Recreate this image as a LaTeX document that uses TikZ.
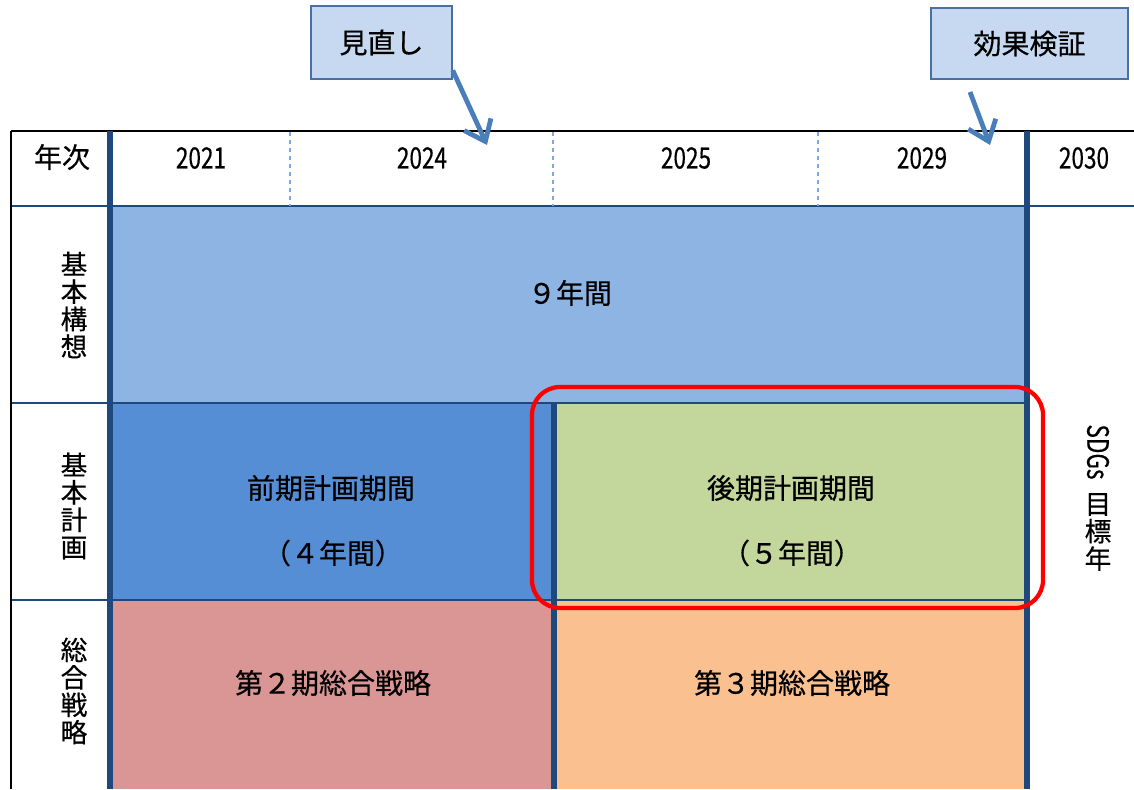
\documentclass[tikz,border=0pt]{standalone}
\usepackage{fontspec}
\newfontfamily\jp[FakeBold=0.5]{Noto Sans CJK JP}
\usetikzlibrary{arrows.meta}
\definecolor{kousou}{HTML}{8EB4E3}
\definecolor{zenki}{HTML}{558ED5}
\definecolor{kouki}{HTML}{C3D69B}
\definecolor{dai2}{HTML}{D99694}
\definecolor{dai3}{HTML}{FAC090}
\definecolor{navy}{HTML}{1F497D}
\definecolor{callfill}{HTML}{C6D9F1}
\definecolor{callline}{HTML}{4A6FA5}
\definecolor{arrcol}{HTML}{4A7EBB}
\definecolor{dashcol}{HTML}{7FA7DB}
\newcommand{\yr}[1]{\scalebox{0.77}[1]{#1}}
\tikzset{
  callout/.style={draw=callline, fill=callfill, line width=1.1pt, inner sep=0pt},
  arr/.style={draw=arrcol, line width=3.6pt, -{Straight Barb[length=14pt,width=22pt]}},
  sep/.style={draw=navy, line width=1pt},
  bigsep/.style={draw=navy, line width=4.5pt},
  hdash/.style={draw=dashcol, line width=1pt, dashed},
  border/.style={draw=black, line width=1.6pt},
  vlabel/.style={align=center, font=\jp\fontsize{20}{20.6}\selectfont, inner sep=0pt},
  txt/.style={font=\jp\fontsize{21}{24}\selectfont, inner sep=0pt},
  yrtxt/.style={font=\jp\fontsize{22}{24}\selectfont, inner sep=0pt},
  redbox/.style={draw=red, line width=3.2pt, rounded corners=21pt}
}
\begin{document}
\begin{tikzpicture}[x=0.75pt,y=-0.75pt]
\useasboundingbox (0,0) rectangle (1134,789);
% fills
\fill[kousou] (113,207) rectangle (1024,403);
\fill[zenki] (113,403) rectangle (554,600);
\fill[kouki] (554,403) rectangle (1024,600);
\fill[dai2] (113,600) rectangle (554,789);
\fill[dai3] (554,600) rectangle (1024,789);
% separators
\draw[sep] (11,206) -- (1134,206);
\draw[sep] (11,403) -- (1024,403);
\draw[sep] (11,600) -- (1024,600);
\draw[hdash] (290,132) -- (290,206);
\draw[hdash] (553,132) -- (553,206);
\draw[hdash] (818,132) -- (818,206);
\draw[border] (11,131) -- (1134,131);
\draw[border] (11,131) -- (11,789);
\draw[bigsep] (110,131) -- (110,789);
\draw[bigsep] (1027,131) -- (1027,789);
\draw[bigsep] (554,403) -- (554,789);
% red frame
\draw[redbox] (532,387) rectangle (1043,608);
% header texts
\node[txt] (nenji) at (62,157) {年次};
\node[yrtxt] (y2021) at (201,158) {\yr{2021}};
\node[yrtxt] (y2024) at (422,158) {\yr{2024}};
\node[yrtxt] (y2025) at (686,158) {\yr{2025}};
\node[yrtxt] (y2029) at (922,158) {\yr{2029}};
\node[yrtxt] (y2030) at (1084,158) {\yr{2030}};
% row labels
\node[vlabel] (l1) at (74,305) {基\\本\\構\\想};
\node[vlabel] (l2) at (74,506) {基\\本\\計\\画};
\node[vlabel] (l3) at (74,691) {総\\合\\戦\\略};
% cell texts
\node[txt] (t1) at (570,293) {９年間};
\node[txt] (t2) at (331,488) {前期計画期間};
\node[txt] (t2b) at (333,553) {（４年間）};
\node[txt] (t3) at (791,488) {後期計画期間};
\node[txt] (t3b) at (792,553) {（５年間）};
\node[txt] (t4) at (333,683) {第２期総合戦略};
\node[txt] (t5) at (792,683) {第３期総合戦略};
% SDGs
\node[yrtxt, rotate=-90] (sdgs) at (1098,452) {\yr{SDGs}};
\node[vlabel] (mokuhyo) at (1098,532) {目\\標\\年};
% callouts
\node[callout, minimum width=105.75pt, minimum height=54.75pt, txt] (minaoshi) at (381.5,42.5) {見直し};
\node[callout, minimum width=147.75pt, minimum height=53.25pt, txt] (kouka) at (1029.5,43.5) {効果検証};
\coordinate (a1) at (487,145);
\coordinate (a2s) at (970,92);
\coordinate (a2) at (990,145);
\draw[arr] ([yshift=7pt]minaoshi.south east) -- (a1);
\draw[arr] (a2s) -- (a2);
\end{tikzpicture}
\end{document}
